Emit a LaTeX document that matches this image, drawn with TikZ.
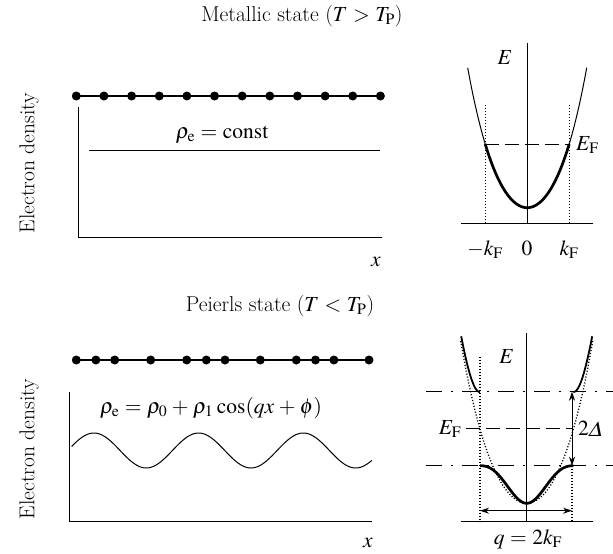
\documentclass[tikz,border=0pt]{standalone}
\usepackage{mathptmx}
\usetikzlibrary{arrows.meta}
\newcommand{\myrel}[1]{\kern5.5pt{#1}\kern5.5pt}
\newcommand{\mybin}[1]{\kern4.5pt{#1}\kern4.5pt}
\begin{document}
\begin{tikzpicture}[x=1pt,y=-1pt,
  font=\fontsize{21.5}{25}\selectfont,
  thinline/.style={line width=1pt},
  chainline/.style={line width=1.3pt},
  thickcurve/.style={line width=2.7pt},
  medcurve/.style={line width=1.8pt},
  dotline/.style={line width=1.3pt, dash pattern=on 1.1pt off 1.9pt},
  efdash/.style={line width=1pt, dash pattern=on 14pt off 6pt},
  dashdot/.style={line width=1pt, dash pattern=on 16pt off 9pt on 2pt off 9pt},
  dbl/.style={line width=1pt, {Stealth[length=9pt,width=6pt]}-{Stealth[length=9pt,width=6pt]}},
  declare function={
    Q(\t)=0.03273*\t*\t+0.0192*(\t*\t/100)*(\t*\t/100);
    P(\t)=0.03086*\t*\t+0.01464*(\t*\t/100)*(\t*\t/100);
    Up(\t)=74.3+sqrt((P(\t)-74.3)*(P(\t)-74.3)+1369);
    Lo(\t)=18.8*(1-cos(180*pow(max(1-abs(\t)/46.7,0.001),1.2)));
  }]
\useasboundingbox (0,0) rectangle (613,554);

% ---------------- Metallic state ----------------
\node[anchor=base] (title1) at (302,21.7) {Metallic state ($T\myrel{>}T_{\mathrm P}$)};
\coordinate (c1a) at (76.3,96);
\coordinate (c1b) at (380.4,96);
\draw[chainline] (c1a) -- (c1b);
\foreach \i in {0,...,11} \fill ({76.3+27.646*\i},96) circle[radius=4.5pt];

\node[rotate=90] (ed1) at (29,163) {Electron density};
\coordinate (ax1t) at (78.3,107);
\coordinate (ax1o) at (78.3,237);
\coordinate (ax1r) at (381.6,237);
\draw[thinline] (ax1t) -- (ax1o) -- (ax1r);
\coordinate (cl1) at (89.2,150);
\coordinate (cl2) at (380.4,150);
\draw[thinline] (cl1) -- (cl2);
\node[anchor=base] (rho1) at (222,138) {$\rho_{\mathrm e}\myrel{=}\mathrm{const}$};
\node (x1) at (376,262) {$x$};

% band diagram (metal)
\coordinate (Et1) at (527.2,43);
\coordinate (Eb1) at (527.2,223);
\coordinate (kl1) at (461,223);
\coordinate (kr1) at (593,223);
\draw[thinline] (Et1) -- (Eb1);
\draw[thinline] (kl1) -- (kr1);
\draw[thinline] plot[domain=-59.5:-42, samples=30, smooth] ({527.2+\x},{207.7-Q(\x)});
\draw[thinline] plot[domain=42:59.5, samples=30, smooth] ({527.2+\x},{207.7-Q(\x)});
\draw[thickcurve] plot[domain=-42:42, samples=80, smooth] ({527.2+\x},{207.7-Q(\x)});
\coordinate (dl1t) at (485.2,105);
\coordinate (dl1b) at (485.2,223);
\coordinate (dr1t) at (569.2,105);
\coordinate (dr1b) at (569.2,223);
\draw[dotline] (dl1t) -- (dl1b);
\draw[dotline] (dr1t) -- (dr1b);
\coordinate (ef1a) at (485.2,144);
\coordinate (ef1b) at (569.2,144);
\draw[efdash] (ef1a) -- (ef1b);
\node[anchor=west, inner sep=2pt] (EF1) at (574,145) {$E_{\mathrm F}$};
\node (E1) at (505,58) {$E$};
\node[anchor=base] (mk1) at (485,255) {$-k_{\mathrm F}$};
\node[anchor=base] (zero1) at (527,255) {$0$};
\node[anchor=base] (pk1) at (569,255) {$k_{\mathrm F}$};

% ---------------- Peierls state ----------------
\node[anchor=base] (title2) at (280,311) {Peierls state ($T\myrel{<}T_{\mathrm P}$)};
\coordinate (c2a) at (76.3,360);
\coordinate (c2b) at (369,360);
\draw[chainline] (c2a) -- (c2b);
\foreach \xx in {76.3,95.9,114.7,150.7,186.7,206.3,225,260.3,296.3,315.5,333.9,369}
  \fill (\xx,360) circle[radius=4.5pt];

\node[rotate=90] (ed2) at (29,449) {Electron density};
\coordinate (ax2t) at (69.3,392);
\coordinate (ax2o) at (69.3,521);
\coordinate (ax2r) at (371.8,521);
\draw[thinline] (ax2t) -- (ax2o) -- (ax2r);
\draw[thinline] plot[domain=71.6:371.8, samples=160, smooth] (\x,{450.5-17.5*cos(3.43840*(\x-93.9))});
\node[anchor=base] (rho2) at (211,413) {$\rho_{\mathrm e}\myrel{=}\rho_0\mybin{+}\rho_1\kern3.5pt\mathrm{cos}(qx\mybin{+}\phi)$};
\node (x2) at (368,543) {$x$};

% band diagram (Peierls)
\coordinate (Et2) at (526.7,333);
\coordinate (Eb2) at (526.7,521.7);
\coordinate (kl2) at (460.7,521.7);
\coordinate (kr2) at (592.7,521.7);
\draw[thinline] (Et2) -- (Eb2);
\draw[thinline] (kl2) -- (kr2);
\coordinate (up1) at (425.8,391.7);
\coordinate (up2) at (613,391.7);
\coordinate (lo1) at (425.8,465.7);
\coordinate (lo2) at (613,465.7);
\draw[dashdot] (up1) -- (up2);
\draw[dashdot] (lo1) -- (lo2);
\coordinate (ef2a) at (466,428.7);
\coordinate (ef2b) at (572,428.7);
\draw[efdash] (ef2a) -- (ef2b);
\node (EF2) at (450,428.7) {$E_{\mathrm F}$};
\node[anchor=west, inner sep=0pt] (gap2) at (578,428.7) {$2$};
\node[anchor=west, inner sep=0pt, transform shape, xslant=0.22] (gapD) at ([xshift=0.5pt]gap2.east) {$\Delta$};
\coordinate (dl2t) at (480,356.7);
\coordinate (dl2b) at (480,521.7);
\coordinate (dr2t) at (572,465.7);
\coordinate (dr2b) at (572,521.7);
\draw[dotline] (dl2t) -- (dl2b);
\draw[dotline] (dr2t) -- (dr2b);
\draw[dotline] plot[domain=-66:66, samples=90, smooth] ({526.7+\x},{503.3-P(\x)});
\draw[thickcurve] plot[domain=-46.7:46.7, samples=90, smooth] ({526.7+\x},{465.7+Lo(\x)});
\draw[medcurve] plot[domain=-65.5:-46.7, samples=40, smooth] ({526.7+\x},{503.3-Up(\x)});
\draw[medcurve] plot[domain=46.7:65.5, samples=40, smooth] ({526.7+\x},{503.3-Up(\x)});
\coordinate (gt) at (572,391.7);
\coordinate (gb) at (572,465.7);
\draw[dbl] (gt) -- (gb);
\coordinate (qa) at (480,510.7);
\coordinate (qb) at (572,510.7);
\draw[dbl] (qa) -- (qb);
\node (E2) at (506.7,357) {$E$};
\node (qlab) at (528,539) {$q\myrel{=}2k_{\mathrm F}$};
\end{tikzpicture}
\end{document}
